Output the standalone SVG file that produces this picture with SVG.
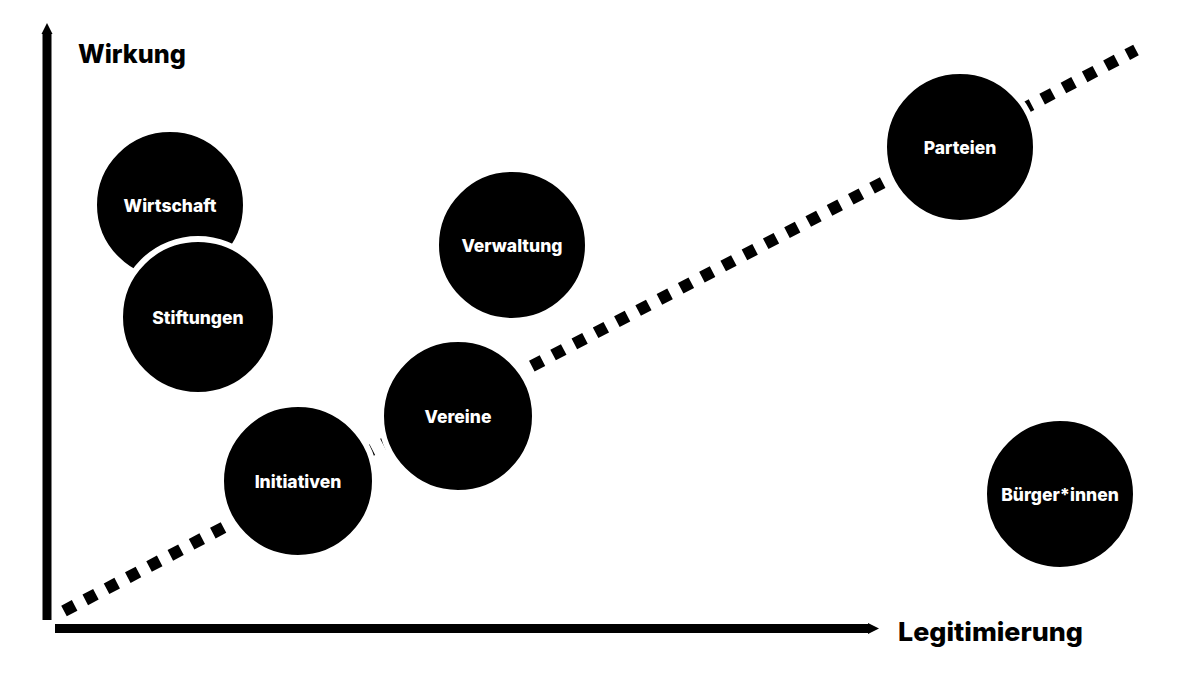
<svg xmlns="http://www.w3.org/2000/svg" width="1200" height="675" viewBox="0 0 1200 675">
<style>
.node circle{fill:#000;stroke:#fff;stroke-width:6}
.node text{fill:#fff;font-family:Inter,Roboto,"Liberation Sans",sans-serif;font-weight:800;font-size:17.5px;text-anchor:middle;dominant-baseline:central}
.axis{stroke:#000;stroke-width:9;fill:none}
.lbl{font-family:Inter,Roboto,"Liberation Sans",sans-serif;font-weight:800;font-size:26px;fill:#000}
</style>
<defs>
<marker id="ah" viewBox="0 0 10 10" refX="0" refY="5" markerWidth="11" markerHeight="20" markerUnits="userSpaceOnUse" orient="auto">
<path d="M0,0 L10,5 L0,10 Z" fill="#000"/>
</marker>
</defs>
<rect width="1200" height="675" fill="#fff"/>
<g id="connectors">
<line class="axis" x1="47" y1="620" x2="47" y2="34" marker-end="url(#ah)"/>
<line class="axis" x1="55" y1="628.5" x2="868" y2="628.5" marker-end="url(#ah)"/>
<line x1="64" y1="611" x2="1136" y2="50" stroke="#000" stroke-width="12" stroke-dasharray="12 12"/>
</g>
<text class="lbl" x="78" y="63" textLength="108" lengthAdjust="spacingAndGlyphs">Wirkung</text>
<text class="lbl" x="898" y="641" textLength="185" lengthAdjust="spacingAndGlyphs">Legitimierung</text>
<g id="wirtschaft" class="node"><circle cx="170" cy="205" r="76"/><text x="170" y="205">Wirtschaft</text></g>
<g id="stiftungen" class="node"><circle cx="198" cy="317" r="78"/><text x="198" y="317">Stiftungen</text></g>
<g id="verwaltung" class="node"><circle cx="512" cy="245" r="76"/><text x="512" y="245">Verwaltung</text></g>
<g id="parteien" class="node"><circle cx="960" cy="147" r="76"/><text x="960" y="147">Parteien</text></g>
<g id="vereine" class="node"><circle cx="458" cy="416" r="77"/><text x="458" y="416">Vereine</text></g>
<g id="initiativen" class="node"><circle cx="298" cy="481" r="77"/><text x="298" y="481">Initiativen</text></g>
<g id="buergerinnen" class="node"><circle cx="1060" cy="494" r="76"/><text x="1060" y="494">Bürger*innen</text></g>
</svg>
